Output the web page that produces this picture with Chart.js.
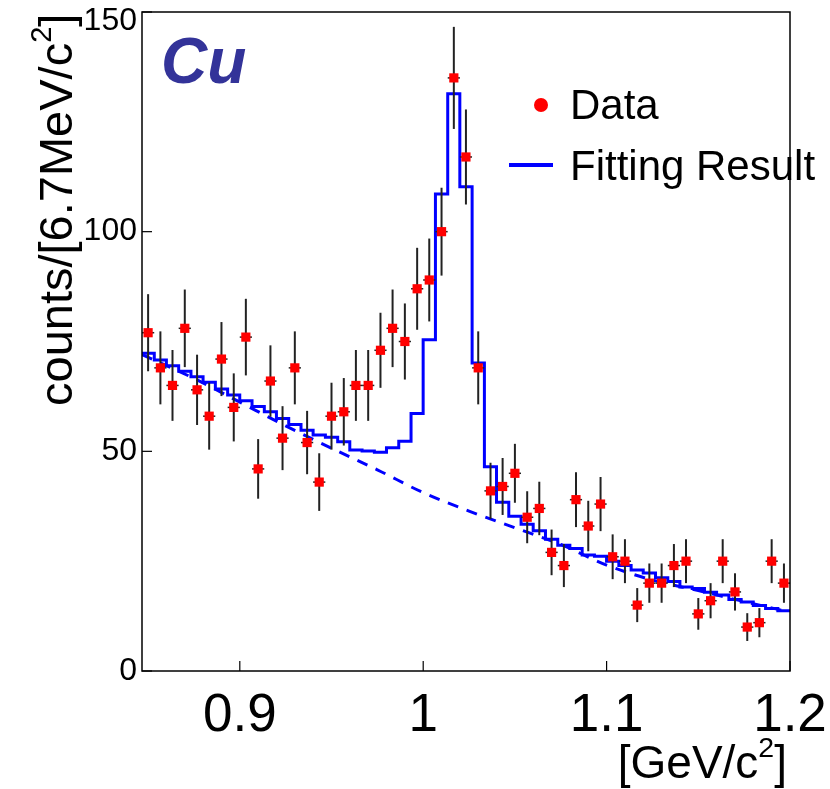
<!DOCTYPE html>
<html>
<head>
<meta charset="utf-8">
<script src="https://cdn.jsdelivr.net/npm/chart.js@4.4.1/dist/chart.umd.min.js"></script>
<style>
  html, body { margin: 0; padding: 0; background: #fff; }
  #c { display: block; }
</style>
</head>
<body>
<canvas id="c" width="830" height="789"></canvas>
<script>
// bin centres [GeV/c^2], 6.7 MeV wide
const massBins = [
  0.8500, 0.8567, 0.8633, 0.8700, 0.8767, 0.8833, 0.8900, 0.8967, 0.9033, 0.9100,
  0.9167, 0.9233, 0.9300, 0.9367, 0.9433, 0.9500, 0.9567, 0.9633, 0.9700, 0.9767,
  0.9833, 0.9900, 0.9967, 1.0033, 1.0100, 1.0167, 1.0233, 1.0300, 1.0367, 1.0433,
  1.0500, 1.0567, 1.0633, 1.0700, 1.0767, 1.0833, 1.0900, 1.0967, 1.1033, 1.1100,
  1.1167, 1.1233, 1.1300, 1.1367, 1.1433, 1.1500, 1.1567, 1.1633, 1.1700, 1.1767,
  1.1833, 1.1900, 1.1967
];
const binHalf = 0.00333;

const dataCounts = [
  77, 69, 65, 78, 64, 58, 71, 60, 76, 46,
  66, 53, 69, 52, 43, 58, 59, 65, 65, 73,
  78, 75, 87, 89, 100, 135, 117, 69, 41, 42,
  45, 35, 37, 27, 24, 39, 33, 38, 26, 25,
  15, 20, 20, 24, 25, 13, 16, 25, 18, 10,
  11, 25, 20
];

// fit result, per bin
const fitCounts = [
  72.3, 70.8, 69.5, 68.2, 67.0, 65.7, 64.2, 62.8, 61.5, 60.2,
  59.0, 57.5, 56.1, 54.8, 53.7, 53.2, 52.2, 50.3, 50.1, 49.8,
  50.8, 52.3, 58.6, 75.4, 108.6, 131.4, 110.2, 70.1, 46.5, 38.4,
  35.2, 33.4, 31.9, 30.0, 28.6, 27.9, 26.4, 26.1, 25.0, 24.0,
  23.0, 22.3, 21.2, 20.4, 19.1, 18.8, 17.9, 17.3, 16.3, 15.7,
  14.9, 14.2, 13.7
];

// background component (dashed)
const bgMass   = [0.8467, 0.875, 0.900, 0.925, 0.950, 0.975, 1.000, 1.025, 1.050, 1.075, 1.100, 1.125, 1.150, 1.175, 1.200];
const bgCounts = [72.0,   66.6,  61.2,  55.8,  50.7,  45.8,  40.6,  36.4,  32.6,  28.8,  24.1,  20.7,  18.3,  15.8,  13.4];

const xTicks = [0.9, 1.0, 1.1, 1.2];
const xTickLabels = ['0.9', '1', '1.1', '1.2'];
const yTicks = [0, 50, 100, 150];

const FONT = "'Liberation Sans', Arial, Helvetica, sans-serif";

let dataPts = massBins.map((m, i) => ({ x: m, y: dataCounts[i] }));
let fitPts = massBins.map((m, i) => ({ x: m - binHalf, y: fitCounts[i] }));
fitPts.push({ x: massBins[massBins.length - 1] + binHalf, y: fitCounts[fitCounts.length - 1] });
let bgPts = bgMass.map((m, i) => ({ x: m, y: bgCounts[i] }));

// draws text pieces, some as superscripts
function drawPieces(ctx, pieces, x, y, size) {
  let cx = x;
  pieces.forEach(p => {
    let fs = p.sup ? size * 0.62 : size;
    ctx.font = fs + 'px ' + FONT;
    ctx.fillText(p.t, cx, p.sup ? y - size * 0.45 : y);
    cx += ctx.measureText(p.t).width;
  });
  return cx - x;
}
function piecesWidth(ctx, pieces, size) {
  let w = 0;
  pieces.forEach(p => {
    ctx.font = (p.sup ? size * 0.62 : size) + 'px ' + FONT;
    w += ctx.measureText(p.t).width;
  });
  return w;
}

const errorBars = {
  id: 'errorBars',
  beforeDatasetDraw(chart, args) {
    if (args.index !== 0) return;
    let { ctx, scales: { x, y } } = chart;
    ctx.save();
    ctx.strokeStyle = '#222';
    massBins.forEach((m, i) => {
      let n = dataCounts[i], e = Math.sqrt(n);
      let px = x.getPixelForValue(m);
      ctx.lineWidth = 2;
      ctx.beginPath();
      ctx.moveTo(px, y.getPixelForValue(n - e));
      ctx.lineTo(px, y.getPixelForValue(n + e));
      ctx.stroke();
      ctx.lineWidth = 1.5;
      ctx.beginPath();
      ctx.moveTo(x.getPixelForValue(m - binHalf), y.getPixelForValue(n));
      ctx.lineTo(x.getPixelForValue(m + binHalf), y.getPixelForValue(n));
      ctx.stroke();
    });
    ctx.restore();
  }
};

const frame = {
  id: 'frame',
  afterDraw(chart) {
    let { ctx, chartArea: a, scales: { x, y } } = chart;
    ctx.save();
    ctx.strokeStyle = '#000';
    ctx.lineWidth = 1.5;
    ctx.strokeRect(a.left, a.top, a.right - a.left, a.bottom - a.top);

    // ticks, pointing inward
    ctx.lineWidth = 1.2;
    xTicks.forEach(v => {
      let px = x.getPixelForValue(v);
      ctx.beginPath(); ctx.moveTo(px, a.bottom); ctx.lineTo(px, a.bottom - 10); ctx.stroke();
    });
    yTicks.forEach(v => {
      let py = y.getPixelForValue(v);
      ctx.beginPath(); ctx.moveTo(a.left, py); ctx.lineTo(a.left + 10, py); ctx.stroke();
    });

    ctx.fillStyle = '#000';
    ctx.textBaseline = 'middle';
    ctx.textAlign = 'right';
    ctx.font = '32px ' + FONT;
    yTicks.forEach(v => {
      let py = Math.max(y.getPixelForValue(v), 21);
      ctx.fillText(String(v), a.left - 5, py);
    });

    ctx.textBaseline = 'alphabetic';
    ctx.textAlign = 'center';
    ctx.font = '53px ' + FONT;
    xTicks.forEach((v, i) => {
      ctx.fillText(xTickLabels[i], x.getPixelForValue(v), 731);
    });

    // axis titles
    ctx.textAlign = 'left';
    let xt = [{ t: '[GeV/c' }, { t: '2', sup: true }, { t: ']' }];
    let w = piecesWidth(ctx, xt, 46);
    drawPieces(ctx, xt, 787 - w, 778, 46);

    ctx.save();
    ctx.translate(72, 406);
    ctx.rotate(-Math.PI / 2);
    drawPieces(ctx, [{ t: 'counts/[6.7MeV/c' }, { t: '2', sup: true }, { t: ']' }], 0, 0, 47);
    ctx.restore();

    // label
    ctx.fillStyle = '#333399';
    ctx.font = 'italic bold 64px ' + FONT;
    ctx.fillText('Cu', 161, 83);

    // legend
    ctx.fillStyle = '#ff0000';
    ctx.beginPath(); ctx.arc(541, 105, 7, 0, Math.PI * 2); ctx.fill();
    ctx.strokeStyle = '#0000ff';
    ctx.lineWidth = 4;
    ctx.beginPath(); ctx.moveTo(509, 165); ctx.lineTo(553, 165); ctx.stroke();
    ctx.fillStyle = '#000';
    ctx.font = '42px ' + FONT;
    ctx.fillText('Data', 570, 119);
    ctx.fillText('Fitting Result', 570, 180);
    ctx.restore();
  }
};

let datasets = [
  {
    label: 'Data',
    type: 'scatter',
    data: dataPts,
    order: 0,
    pointStyle: 'rect',
    pointRadius: 6.5,
    pointHoverRadius: 6.5,
    backgroundColor: '#ff0000',
    borderWidth: 0,
  },
  {
    label: 'Fitting Result',
    type: 'line',
    data: fitPts,
    order: 1,
    stepped: true,
    borderColor: '#0000ff',
    borderWidth: 3,
    pointRadius: 0,
    fill: false,
  },
  {
    label: 'Background',
    type: 'line',
    data: bgPts,
    order: 2,
    borderColor: '#0000ff',
    borderWidth: 3,
    borderDash: [11, 9],
    cubicInterpolationMode: 'monotone',
    pointRadius: 0,
    fill: false,
  }
];

let options = {
  responsive: false,
  animation: false,
  layout: { padding: { top: 12, right: 40, left: 0, bottom: 0 } },
  plugins: {
    legend: { display: false },
    tooltip: { enabled: false },
  },
  scales: {
    x: {
      type: 'linear',
      min: 0.84667,
      max: 1.2,
      grid: { display: false },
      border: { display: false },
      ticks: { display: false },
      afterFit: s => { s.height = 118; }
    },
    y: {
      type: 'linear',
      min: 0,
      max: 150,
      grid: { display: false },
      border: { display: false },
      ticks: { display: false, stepSize: 50 },
      afterFit: s => { s.width = 142; }
    }
  }
};

new Chart('c', { type: 'scatter', data: { datasets }, options, plugins: [errorBars, frame] });
</script>
</body>
</html>
